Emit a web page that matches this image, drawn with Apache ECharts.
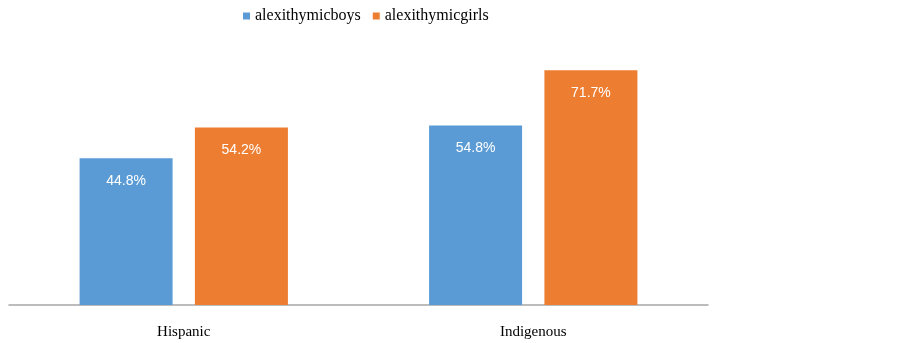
<!DOCTYPE html>
<html>
<head>
<meta charset="utf-8">
<script src="https://cdn.jsdelivr.net/npm/echarts@6/dist/echarts.min.js"></script>
<style>
  html, body { margin: 0; padding: 0; background: #fff; }
  #chart { width: 903px; height: 343px; }
</style>
</head>
<body>
<div id="chart"></div>
<script>
// data
var categories = ['Hispanic', 'Indigenous'];
var seriesNames = ['alexithymicboys', 'alexithymicgirls'];
var boys = [44.8, 54.8];
var girls = [54.2, 71.7];

var chart = echarts.init(document.getElementById('chart'));

var labelStyle = {
  show: true,
  position: 'insideTop',
  distance: 16,
  color: '#fff',
  fontSize: 14,
  fontFamily: 'Liberation Sans',
  formatter: function (p) { return p.value.toFixed(1) + '%'; }
};

chart.setOption({
  animation: false,
  legend: {
    top: 3,
    left: 238,
    itemWidth: 7,
    itemHeight: 7,
    itemGap: 12,
    icon: 'rect',
    textStyle: { fontFamily: 'Liberation Serif', fontSize: 16, color: '#000' },
    data: seriesNames
  },
  grid: { left: 9, right: 195, top: 43, bottom: 38 },
  xAxis: {
    type: 'category',
    data: categories,
    axisTick: { show: false },
    axisLine: { lineStyle: { color: '#a6a6a6', width: 1.5 } },
    axisLabel: { margin: 20, color: '#000', fontFamily: 'Liberation Serif', fontSize: 15 }
  },
  yAxis: {
    type: 'value',
    min: 0,
    max: 80,
    show: false,
    splitLine: { show: false }
  },
  series: [
    {
      name: seriesNames[0],
      type: 'bar',
      data: boys,
      barWidth: 93,
      barGap: '24%',
      itemStyle: { color: '#5b9bd5' },
      label: labelStyle
    },
    {
      name: seriesNames[1],
      type: 'bar',
      data: girls,
      barWidth: 93,
      itemStyle: { color: '#ed7d31' },
      label: labelStyle
    }
  ]
});
</script>
</body>
</html>
